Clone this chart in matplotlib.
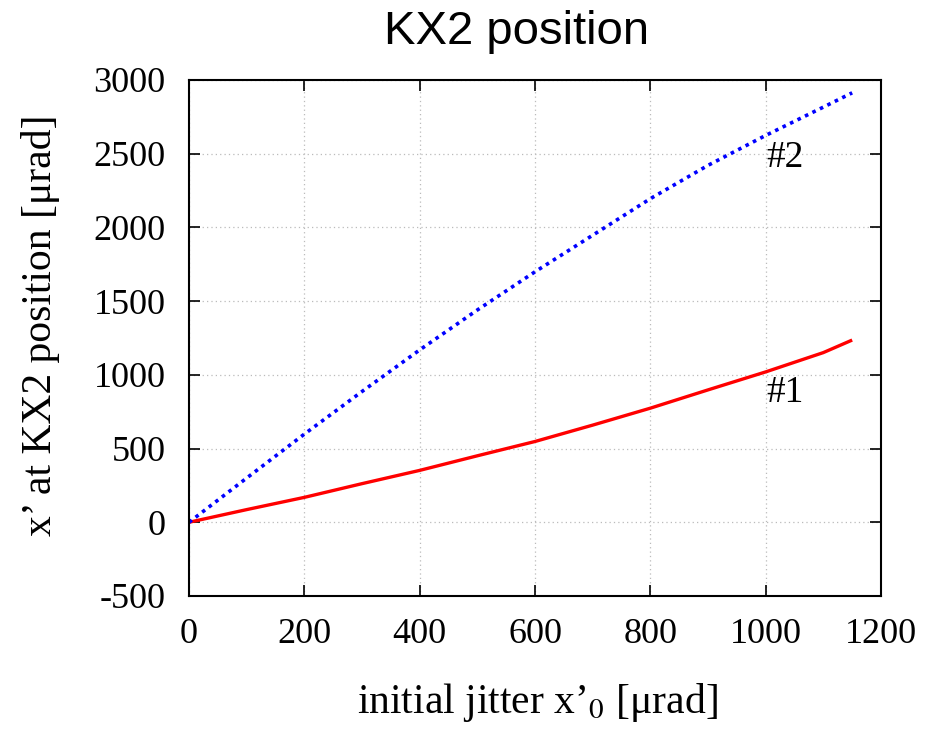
import matplotlib
matplotlib.use("Agg")
import matplotlib.pyplot as plt

# Data
x_vals = [0, 100, 200, 300, 400, 500, 600, 700, 800, 900, 1000, 1100, 1150]
series1 = [0, 86, 169, 262, 352, 451, 548, 659, 774, 898, 1020, 1151, 1236]       # #1 red solid
series2 = [0, 300, 598, 887, 1169, 1440, 1699, 1947, 2195, 2421, 2624, 2816, 2913]  # #2 blue dotted
xticks = [0, 200, 400, 600, 800, 1000, 1200]
yticks = [-500, 0, 500, 1000, 1500, 2000, 2500, 3000]
labels = ["#1", "#2"]
label_pos_x = [1002, 1002]
label_pos_y = [878, 2473]

plt.rcParams['mathtext.fontset'] = 'stix'
serif = ['Liberation Serif', 'DejaVu Serif']

fig = plt.figure(figsize=(9.3, 7.31), dpi=100)
ax = fig.add_axes([189/930, 1-596/731, (881-189)/930, (596-80)/731])

ax.plot(x_vals, series1, color='#ff0000', lw=2.4, solid_capstyle='butt')
ax.plot(x_vals, series2, color='#0000ff', lw=2.6, linestyle=(0, (1, 1.3)))

ax.set_xlim(0, 1200)
ax.set_ylim(-500, 3000)
ax.set_xticks(xticks)
ax.set_yticks(yticks)
ax.set_xticklabels([str(v) for v in xticks], family=serif, fontsize=26)
ax.set_yticklabels([str(v) for v in yticks], family=serif, fontsize=26)
ax.tick_params(direction='in', length=8, width=1.2, top=True, right=True)
ax.tick_params(axis='x', pad=16)
ax.tick_params(axis='y', pad=17)
ax.grid(True, color='#bbbbbb', linestyle=(0, (1, 2.5)), lw=0.9)
for s in ax.spines.values():
    s.set_linewidth(1.5)

ax.text(label_pos_x[0], label_pos_y[0], labels[0], family=serif, fontsize=27, va='center', ha='left')
ax.text(label_pos_x[1], label_pos_y[1], labels[1], family=serif, fontsize=27, va='center', ha='left')

ax.set_xlabel("initial jitter x’$_0$ [μrad]", family=serif, fontsize=30)
ax.xaxis.label.set_va('center')
ax.xaxis.set_label_coords(0.504, -0.206)
ax.set_ylabel("x’ at KX2 position [μrad]", family=serif, fontsize=30)
ax.yaxis.label.set_va('center')
ax.yaxis.set_label_coords(-0.215, 0.525)

fig.text(517/930, 1-32/731, "KX2 position", family=['Liberation Sans', 'DejaVu Sans'],
         fontsize=34, ha='center', va='center')

fig.savefig("out.png", dpi=100, facecolor='white')
